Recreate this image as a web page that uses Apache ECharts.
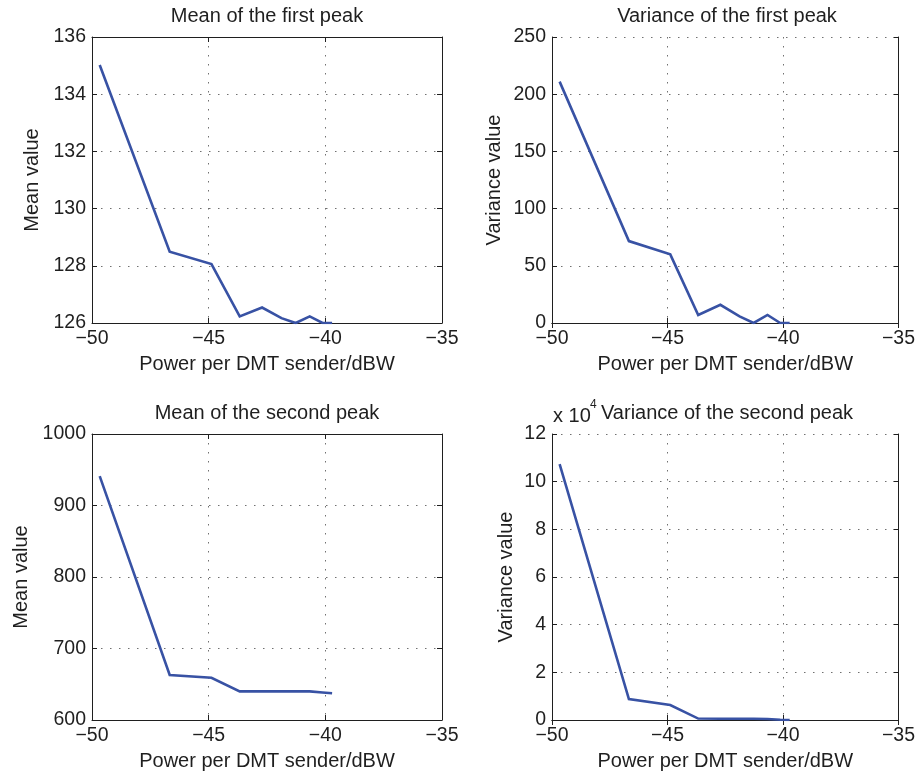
<!DOCTYPE html>
<html>
<head>
<meta charset="utf-8">
<script src="https://cdn.jsdelivr.net/npm/echarts@6/dist/echarts.min.js"></script>
<style>
  html, body { margin: 0; padding: 0; background: #ffffff; }
  #chart { width: 918px; height: 776px; }
</style>
</head>
<body>
<div id="chart"></div>
<script>
// Transmit power per DMT sender (dBW), shared by all four panels
const power = [-49.67, -46.67, -44.88, -43.67, -42.71, -41.88, -41.27, -40.67, -40.12, -39.71];

// Statistics of the first and second peak
const meanFirst = [135.02, 128.49, 128.06, 126.23, 126.54, 126.17, 126.0, 126.23, 126.0, 126.0];
const varFirst = [211, 71.6, 60, 7, 15.9, 5.8, 0, 7, 0, 0];
const meanSecond = [941, 663, 659, 640, 640, 640, 640, 640, 638.5, 637.5];
const varSecond = [107400, 8800, 6300, 600, 550, 500, 500, 450, 100, 0];

// Panel texts
const panelTitles = ['Mean of the first peak', 'Variance of the first peak',
                     'Mean of the second peak', 'Variance of the second peak'];
const yNames = ['Mean value', 'Variance value', 'Mean value', 'Variance value'];
const xName = 'Power per DMT sender/dBW';

// Axis ranges: [min, max, interval]
const xRange = [-50, -35, 5];
const yRanges = [[126, 136, 2], [0, 250, 50], [600, 1000, 100], [0, 120000, 20000]];
const varSecondScale = 10000;

const FONT = '"Liberation Sans", Arial, Helvetica, sans-serif';
const INK = '#1f1f1f';
const LINE_BLUE = '#3852a4';

const panels = [
  { left: 92,  top: 37,  data: meanFirst,  yGap: 50 },
  { left: 552, top: 37,  data: varFirst,   yGap: 48 },
  { left: 92,  top: 434, data: meanSecond, yGap: 61 },
  { left: 552, top: 434, data: varSecond,  yGap: 36 }
];
const W = 350, H = 286;

const minusSign = v => String(v).replace('-', '\u2212');

const grid = [], xAxis = [], yAxis = [], series = [], title = [];

panels.forEach((p, i) => {
  grid.push({ left: p.left, top: p.top, width: W, height: H, containLabel: false });

  const [ymin, ymax, yint] = yRanges[i];
  const axisLine = { show: true, lineStyle: { color: INK, width: 1 } };
  const tick = { show: true, inside: true, length: 5, lineStyle: { color: INK, width: 1 } };
  const gridLine = { show: true, lineStyle: { color: '#707070', width: 1, type: [1.5, 7.5] } };

  // bottom x axis with labels and vertical grid
  xAxis.push({
    gridIndex: i, type: 'value', position: 'bottom',
    min: xRange[0], max: xRange[1], interval: xRange[2],
    name: xName, nameLocation: 'middle', nameGap: 31,
    nameTextStyle: { fontFamily: FONT, fontSize: 20, color: INK },
    axisLine, axisTick: tick,
    axisLabel: { fontFamily: FONT, fontSize: 19.5, color: INK, margin: 6, formatter: minusSign },
    splitLine: gridLine
  });
  // top x axis closes the box
  xAxis.push({
    gridIndex: i, type: 'value', position: 'top',
    min: xRange[0], max: xRange[1], interval: xRange[2],
    axisLine, axisTick: tick, axisLabel: { show: false }, splitLine: { show: false }
  });

  yAxis.push({
    gridIndex: i, type: 'value', position: 'left',
    min: ymin, max: ymax, interval: yint,
    name: yNames[i], nameLocation: 'middle', nameGap: p.yGap, nameRotate: 90,
    nameTextStyle: { fontFamily: FONT, fontSize: 20, color: INK },
    axisLine, axisTick: tick,
    axisLabel: {
      fontFamily: FONT, fontSize: 19.5, color: INK, margin: 6,
      formatter: i === 3 ? (v => String(v / varSecondScale)) : (v => minusSign(v))
    },
    splitLine: gridLine
  });
  yAxis.push({
    gridIndex: i, type: 'value', position: 'right',
    min: ymin, max: ymax, interval: yint,
    axisLine, axisTick: tick, axisLabel: { show: false }, splitLine: { show: false }
  });

  series.push({
    type: 'line', xAxisIndex: 2 * i, yAxisIndex: 2 * i,
    data: power.map((x, k) => [x, p.data[k]]),
    showSymbol: false, symbol: 'none', animation: false,
    lineStyle: { color: LINE_BLUE, width: 2.6, join: 'miter' }
  });

  title.push({
    text: panelTitles[i], left: p.left + W / 2, top: p.top - 31, textAlign: 'center', padding: 0,
    textStyle: { fontFamily: FONT, fontSize: 20, fontWeight: 'normal', color: INK }
  });
});

// exponent marker for the second-peak variance axis: "x 10" with a raised 4
title.push({
  text: 'x 10', left: 553, top: 406, padding: 0,
  textStyle: { fontFamily: FONT, fontSize: 20, fontWeight: 'normal', color: INK }
});
title.push({
  text: '4', left: 590, top: 399, padding: 0,
  textStyle: { fontFamily: FONT, fontSize: 12, fontWeight: 'normal', color: INK }
});

const chart = echarts.init(document.getElementById('chart'), null, { renderer: 'canvas' });
chart.setOption({
  backgroundColor: '#ffffff',
  animation: false,
  title, grid, xAxis, yAxis, series
});
</script>
</body>
</html>
